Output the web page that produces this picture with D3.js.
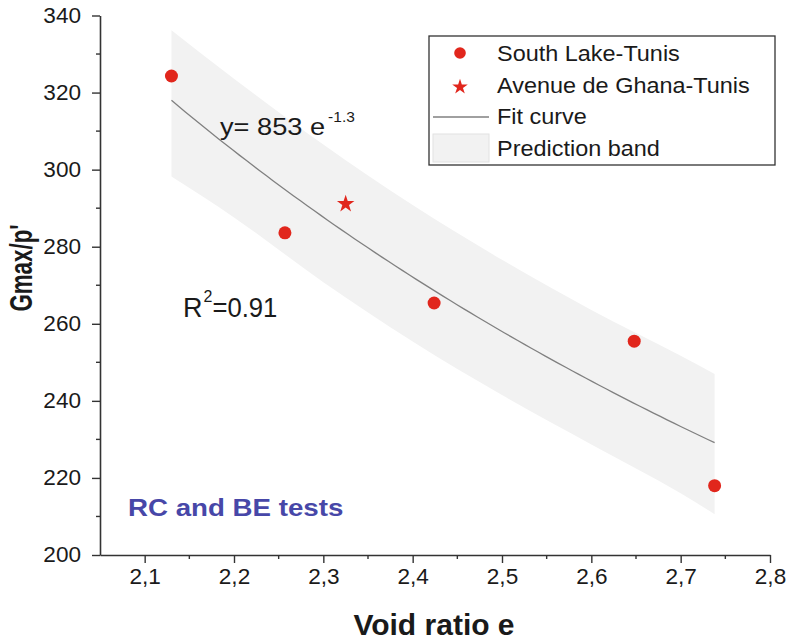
<!DOCTYPE html>
<html>
<head>
<meta charset="utf-8">
<script src="https://cdn.jsdelivr.net/npm/d3@7"></script>
<style>
  html, body { margin: 0; padding: 0; background: #fff; }
  svg { display: block; }
  text { font-family: "Liberation Sans", Arial, sans-serif; fill: #1a1a1a; }
</style>
</head>
<body>
<svg id="chart" width="788" height="642"></svg>
<script>
// Measured samples: void ratio e against normalised stiffness Gmax/p'
const eSouthLake = [2.13, 2.257, 2.424, 2.648, 2.738];
const gSouthLake = [324.3, 283.6, 265.4, 255.5, 218.0];
const eGhana = [2.325];
const gGhana = [291.1];

// Power-law fit  Gmax/p' = a * e^b
const fitA = 853;
const fitB = -1.305;
const rSquared = 0.91;

// Prediction band limits
const bandE = [2.13, 2.2, 2.3, 2.4, 2.5, 2.6, 2.7, 2.738];
const bandUpper = [336.2, 323.6, 306.5, 290.8, 276.6, 263.6, 251.7, 247.0];
const bandLower = [298.2, 287.6, 270.8, 255.4, 241.5, 228.7, 216.0, 210.6];

// Axis ticks
const xTicks = [2.1, 2.2, 2.3, 2.4, 2.5, 2.6, 2.7, 2.8];
const xTickLabels = ["2,1", "2,2", "2,3", "2,4", "2,5", "2,6", "2,7", "2,8"];
const xMinorTicks = [2.15, 2.25, 2.35, 2.45, 2.55, 2.65, 2.75];
const yTicks = [200, 220, 240, 260, 280, 300, 320, 340];
const yMinorTicks = [210, 230, 250, 270, 290, 310, 330];

const legendLabels = ["South Lake-Tunis", "Avenue de Ghana-Tunis", "Fit curve", "Prediction band"];

const RED = "#e1261c";
const AXIS = "#333";

const svg = d3.select("#chart");

const x = d3.scaleLinear().domain([2.05, 2.8]).range([100, 770]);
const y = d3.scaleLinear().domain([200, 340]).range([555, 15.5]);

// widen text horizontally (or narrow it) to the typeface proportions used here
function stretch(sel, k) {
  sel.each(function () {
    const w = this.getComputedTextLength();
    d3.select(this).attr("textLength", w * k).attr("lengthAdjust", "spacingAndGlyphs");
  });
}

// prediction band
const bandData = bandE.map((e, i) => ({ e, lo: bandLower[i], hi: bandUpper[i] }));
svg.append("path")
  .datum(bandData)
  .attr("fill", "#f2f2f2")
  .attr("d", d3.area().x(d => x(d.e)).y0(d => y(d.lo)).y1(d => y(d.hi)).curve(d3.curveMonotoneX));

// fit curve over the measured range
const eMin = d3.min(eSouthLake.concat(eGhana));
const eMax = d3.max(eSouthLake.concat(eGhana));
const fitPts = d3.range(0, 81).map(i => {
  const e = eMin + (eMax - eMin) * i / 80;
  return { e, g: fitA * Math.pow(e, fitB) };
});
svg.append("path")
  .datum(fitPts)
  .attr("fill", "none")
  .attr("stroke", "#808080")
  .attr("stroke-width", 1.3)
  .attr("d", d3.line().x(d => x(d.e)).y(d => y(d.g)));

// axes
const xAxis = svg.append("g")
  .attr("transform", "translate(0,555)")
  .call(d3.axisBottom(x).tickValues(xTicks).tickFormat((d, i) => xTickLabels[i]).tickSize(8).tickPadding(6).tickSizeOuter(0));
xAxis.append("g").selectAll("line").data(xMinorTicks).join("line")
  .attr("x1", d => x(d)).attr("x2", d => x(d)).attr("y1", 0).attr("y2", 4);

const yAxis = svg.append("g")
  .attr("transform", "translate(100,0)")
  .call(d3.axisLeft(y).tickValues(yTicks).tickSize(8).tickPadding(11).tickSizeOuter(0));
yAxis.append("g").selectAll("line").data(yMinorTicks).join("line")
  .attr("x1", 0).attr("x2", -4).attr("y1", d => y(d)).attr("y2", d => y(d));

svg.selectAll(".domain").attr("stroke", AXIS).attr("stroke-width", 1.6);
svg.selectAll(".tick line").attr("stroke", AXIS).attr("stroke-width", 1.4);
[xAxis, yAxis].forEach(g => g.selectAll("g > line").attr("stroke", AXIS).attr("stroke-width", 1.4));
svg.selectAll(".tick text")
  .attr("font-family", '"Liberation Sans", Arial, sans-serif')
  .attr("font-size", 21.5)
  .attr("fill", "#1a1a1a")
  .call(stretch, 1.05);

// data points
svg.append("g").selectAll("circle").data(eSouthLake).join("circle")
  .attr("cx", d => x(d)).attr("cy", (d, i) => y(gSouthLake[i])).attr("r", 6.5).attr("fill", RED);
svg.append("g").selectAll("path").data(eGhana).join("path")
  .attr("transform", (d, i) => `translate(${x(d)},${y(gGhana[i])})`)
  .attr("d", d3.symbol(d3.symbolStar, 95)).attr("fill", RED);

// fit equation
const eq = svg.append("text").attr("x", 220).attr("y", 135).attr("font-size", 24.5).text("y= " + fitA + " e");
stretch(eq, 1.11);
const eqW = +eq.attr("textLength");
svg.append("text").attr("x", 220 + eqW + 3).attr("y", 122).attr("font-size", 15.5)
  .text(d3.format(".1f")(fitB).replace("−", "-"));

// coefficient of determination
const rT = svg.append("text").attr("x", 183).attr("y", 317).attr("font-size", 27).text("R");
const rW = rT.node().getComputedTextLength();
const sup = svg.append("text").attr("x", 183 + rW + 1).attr("y", 302).attr("font-size", 16).text("2");
const supW = sup.node().getComputedTextLength();
const rv = svg.append("text").attr("x", 183 + rW + supW + 1).attr("y", 317).attr("font-size", 27).text("=" + d3.format(".2f")(rSquared));
stretch(rv, 0.95);

// test type annotation
const rc = svg.append("text").attr("x", 128).attr("y", 516).attr("font-size", 24.5).attr("font-weight", "bold")
  .style("fill", "#4747a8").text("RC and BE tests");
stretch(rc, 1.13);

// axis titles
svg.append("text").attr("x", 434).attr("y", 635).attr("font-size", 30).attr("font-weight", "bold")
  .attr("text-anchor", "middle").text("Void ratio e");
const yl = svg.append("text").attr("transform", "translate(32,268) rotate(-90)").attr("font-size", 31)
  .attr("font-weight", "bold").attr("text-anchor", "middle").text("Gmax/p'");
stretch(yl, 0.72);

// legend
const lg = svg.append("g");
lg.append("rect").attr("x", 429).attr("y", 36).attr("width", 346).attr("height", 129)
  .attr("fill", "#fff").attr("stroke", AXIS).attr("stroke-width", 1.3);
const rowY = [61, 93, 124, 156];
lg.append("circle").attr("cx", 460).attr("cy", 53).attr("r", 5.8).attr("fill", RED);
lg.append("path").attr("transform", "translate(460,87)").attr("d", d3.symbol(d3.symbolStar, 75)).attr("fill", RED);
lg.append("line").attr("x1", 433).attr("x2", 489).attr("y1", 117).attr("y2", 117).attr("stroke", "#808080").attr("stroke-width", 1.3);
lg.append("rect").attr("x", 433).attr("y", 134).attr("width", 56).attr("height", 28).attr("fill", "#f2f2f2").attr("stroke", "#e2e2e2");
lg.selectAll("text.lab").data(legendLabels).join("text").attr("class", "lab")
  .attr("x", 497).attr("y", (d, i) => rowY[i]).attr("font-size", 21.5).text(d => d)
  .call(stretch, 1.09);
</script>
</body>
</html>
